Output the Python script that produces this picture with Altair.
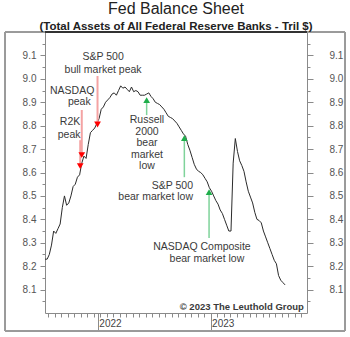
import altair as alt
import pandas as pd

# ---------------- data ----------------
# Weekly total assets of all Federal Reserve Banks (Tril $), Wednesdays from 2021-07-14
fed_assets = [8.23, 8.23, 8.25, 8.29, 8.35, 8.34, 8.36, 8.38, 8.45, 8.50,
              8.46, 8.47, 8.50, 8.54, 8.55, 8.58, 8.59, 8.64, 8.67, 8.66,
              8.72, 8.77, 8.78, 8.79, 8.81, 8.83, 8.87, 8.88, 8.90, 8.91,
              8.92, 8.935, 8.94, 8.93, 8.95, 8.97, 8.96, 8.965, 8.955, 8.945,
              8.965, 8.945, 8.95, 8.945, 8.93, 8.93, 8.93, 8.935, 8.94, 8.925,
              8.915, 8.90, 8.895, 8.89, 8.88, 8.87, 8.855, 8.84, 8.835, 8.83,
              8.82, 8.81, 8.795, 8.78, 8.765, 8.755, 8.72, 8.695, 8.665, 8.635,
              8.615, 8.605, 8.60, 8.59, 8.575, 8.56, 8.535, 8.52, 8.50, 8.48,
              8.465, 8.44, 8.425, 8.40, 8.375, 8.35, 8.35, 8.64, 8.745, 8.69,
              8.65, 8.63, 8.605, 8.56, 8.52, 8.495, 8.47, 8.43, 8.40, 8.395,
              8.385, 8.35, 8.325, 8.30, 8.275, 8.25, 8.225, 8.21, 8.16, 8.14,
              8.13, 8.12]
first_week = "2021-07-14"

# centred annotation lines
note_text = ["S&P 500", "bull market peak", "NASDAQ", "peak", "R2K", "peak",
             "Russell", "2000", "bear", "market", "low",
             "NASDAQ Composite", "bear market low"]
note_date = ["2022-01-18", "2022-01-18", "2021-10-10", "2021-11-02", "2021-10-03", "2021-09-30",
             "2022-06-09", "2022-06-09", "2022-06-09", "2022-06-09", "2022-06-09",
             "2022-12-04", "2022-12-20"]
note_value = [9.093, 9.038, 8.948, 8.901, 8.815, 8.760,
              8.824, 8.775, 8.726, 8.674, 8.627,
              8.281, 8.230]

# right-aligned annotation lines
rnote_text = ["S&P 500", "bear market low"]
rnote_date = ["2022-11-05", "2022-11-05"]
rnote_value = [8.542, 8.495]

credit_text = ["\u00a9 2023 The Leuthold Group"]
credit_date = ["2023-10-30"]
credit_value = [8.025]

# red (peak) arrows: S&P 500, NASDAQ, R2K
peak_date = ["2021-12-31", "2021-11-10", "2021-11-05"]
peak_top = [9.012, 8.867, 8.738]
peak_tip = [8.805, 8.674, 8.627]

# green (bear market low) arrows: Russell 2000, S&P 500, NASDAQ Composite
low_date = ["2022-06-08", "2022-10-08", "2022-12-27"]
low_tip = [8.909, 8.747, 8.516]
low_bottom = [8.845, 8.580, 8.320]

major_y = [8.1, 8.2, 8.3, 8.4, 8.5, 8.6, 8.7, 8.8, 8.9, 9.0, 9.1]
minor_y = [8.05, 8.15, 8.25, 8.35, 8.45, 8.55, 8.65, 8.75, 8.85, 8.95, 9.05, 9.15]

# ---------------- tables ----------------
df = pd.DataFrame({"date": pd.date_range(first_week, periods=len(fed_assets), freq="7D"),
                   "value": fed_assets})
notes = pd.DataFrame({"date": pd.to_datetime(note_date), "value": note_value, "text": note_text})
rnotes = pd.DataFrame({"date": pd.to_datetime(rnote_date), "value": rnote_value, "text": rnote_text})
credit = pd.DataFrame({"date": pd.to_datetime(credit_date), "value": credit_value, "text": credit_text})
peaks = pd.DataFrame({"date": pd.to_datetime(peak_date), "top": peak_top, "tip": peak_tip})
lows = pd.DataFrame({"date": pd.to_datetime(low_date), "tip": low_tip, "bottom": low_bottom})

xscale = alt.Scale(domain=[alt.DateTime(year=2021, month=7, date=14),
                           alt.DateTime(year=2023, month=11, date=9)])
yscale = alt.Scale(domain=[8.0, 9.2], nice=False, zero=False)

week_ticks = [alt.DateTime(year=d.year, month=d.month, date=d.day)
              for d in pd.date_range("2021-07-25", "2023-11-05", freq="21D")]
year_ticks = [alt.DateTime(year=2022, month=1, date=1), alt.DateTime(year=2023, month=1, date=1)]

GRAY = "#8a8a8a"
FONT = "Liberation Sans"

x_minor = alt.Axis(values=week_ticks, labels=False, ticks=True, tickSize=4, tickColor=GRAY,
                   domain=True, domainColor=GRAY, grid=False, title=None, orient="bottom")
x_year = alt.Axis(values=year_ticks, format="%Y", labels=True, tickSize=18, tickColor=GRAY,
                  labelAlign="left", labelBaseline="middle", labelPadding=-8, labelOffset=1,
                  labelFontSize=10, labelColor="#444", labelFont=FONT, domain=False, grid=False,
                  title=None, orient="bottom")
y_left_major = alt.Axis(values=major_y, format=".1f", tickSize=5, tickColor=GRAY, domain=True,
                        domainColor=GRAY, labelFontSize=10, labelColor="#555", labelFont=FONT,
                        labelPadding=4, grid=False, title=None, orient="left")
y_left_minor = alt.Axis(values=minor_y, labels=False, tickSize=3, tickColor=GRAY, domain=False,
                        grid=False, title=None, orient="left")
y_right_major = alt.Axis(values=major_y, format=".1f", tickSize=6, tickColor=GRAY, domain=True,
                         domainColor=GRAY, labelFontSize=10, labelColor="#555", labelFont=FONT,
                         labelPadding=16, grid=False, title=None, orient="right")
y_right_minor = alt.Axis(values=minor_y, labels=False, tickSize=3, tickColor=GRAY, domain=False,
                         grid=False, title=None, orient="right")

frame = alt.Chart(df).mark_rect(fill=None, stroke="#9a9a9a", strokeWidth=1).encode(
    x=alt.value(-40), x2=alt.value(300), y=alt.value(0), y2=alt.value(299))
top_edge = alt.Chart(df).mark_rule(color="#333333", strokeWidth=1).encode(
    x=alt.value(0), x2=alt.value(262), y=alt.value(0))

def axis_layer(xaxis, yaxis):
    return alt.Chart(df).mark_line(opacity=0).encode(
        x=alt.X("date:T", scale=xscale, axis=xaxis),
        y=alt.Y("value:Q", scale=yscale, axis=yaxis))

line = alt.Chart(df).mark_line(color="#2b2b2b", strokeWidth=1).encode(
    x=alt.X("date:T", scale=xscale, axis=x_minor),
    y=alt.Y("value:Q", scale=yscale, axis=y_left_major))

peak_lines = alt.Chart(peaks).mark_rule(color="#f4a3a3", strokeWidth=2).encode(
    x=alt.X("date:T", scale=xscale, axis=None),
    y=alt.Y("top:Q", scale=yscale, axis=None), y2="tip:Q")
peak_heads = alt.Chart(peaks).mark_point(shape="triangle-down", filled=True, color="#ff0000",
                                         size=45, opacity=1).encode(
    x=alt.X("date:T", scale=xscale, axis=None),
    y=alt.Y("tip:Q", scale=yscale, axis=None))
low_lines = alt.Chart(lows).mark_rule(color="#7fd39a", strokeWidth=1.5).encode(
    x=alt.X("date:T", scale=xscale, axis=None),
    y=alt.Y("tip:Q", scale=yscale, axis=None), y2="bottom:Q")
low_heads = alt.Chart(lows).mark_point(shape="triangle-up", filled=True, color="#1fae4b",
                                       size=45, opacity=1).encode(
    x=alt.X("date:T", scale=xscale, axis=None),
    y=alt.Y("tip:Q", scale=yscale, axis=None))

note_layer = alt.Chart(notes).mark_text(font=FONT, fontSize=10.5, color="#3a3a3a",
                                        align="center", baseline="middle").encode(
    x=alt.X("date:T", scale=xscale, axis=None),
    y=alt.Y("value:Q", scale=yscale, axis=None), text="text:N")
rnote_layer = alt.Chart(rnotes).mark_text(font=FONT, fontSize=10.5, color="#3a3a3a",
                                          align="right", baseline="middle").encode(
    x=alt.X("date:T", scale=xscale, axis=None),
    y=alt.Y("value:Q", scale=yscale, axis=None), text="text:N")
credit_layer = alt.Chart(credit).mark_text(font=FONT, fontSize=9.5, fontWeight="bold",
                                           color="#3a3a3a", align="right",
                                           baseline="middle").encode(
    x=alt.X("date:T", scale=xscale, axis=None),
    y=alt.Y("value:Q", scale=yscale, axis=None), text="text:N")

chart = alt.layer(
    frame, top_edge,
    line,
    axis_layer(x_year, y_left_minor),
    axis_layer(None, y_right_major),
    axis_layer(None, y_right_minor),
    peak_lines, low_lines, peak_heads, low_heads,
    note_layer, rnote_layer, credit_layer,
).resolve_axis(x="independent", y="independent").properties(
    width=262, height=281,
    autosize="none",
    padding={"left": 45, "top": 32, "right": 43, "bottom": 24},
    title=alt.TitleParams(
        text="Fed Balance Sheet",
        subtitle="(Total Assets of All Federal Reserve Banks - Tril $)",
        anchor="middle", font=FONT, fontSize=16, fontWeight="normal", color="#222",
        subtitleFont=FONT, subtitleFontSize=11.5, subtitleFontWeight="bold",
        subtitleColor="#222", subtitlePadding=3.5, offset=-0.5),
).configure_view(stroke=None)

chart.save("out.html", embed_options={"renderer": "svg", "actions": False})
